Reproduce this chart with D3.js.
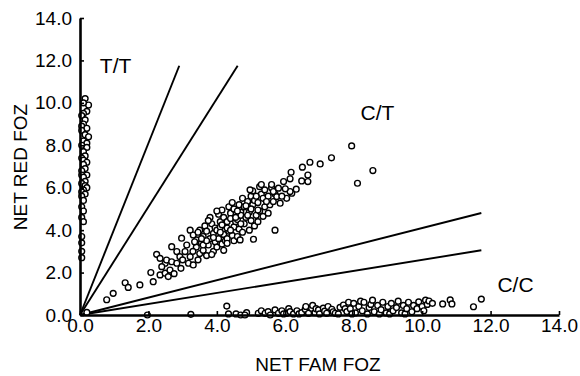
<!DOCTYPE html>
<html>
<head>
<meta charset="utf-8">
<script src="https://cdn.jsdelivr.net/npm/d3@7"></script>
<style>
  body { margin: 0; background: #fff; }
  svg { display: block; }
  text { font-family: "Liberation Sans", Arial, Helvetica, sans-serif; fill: #000; }
</style>
</head>
<body>
<svg id="chart" width="580" height="376"></svg>
<script>
// ---- data ----
const xTicks = [0, 2, 4, 6, 8, 10, 12, 14];
const yTicks = [0, 2, 4, 6, 8, 10, 12, 14];
const xTitle = "NET FAM FOZ";
const yTitle = "NET RED FOZ";

// reference lines through the origin: slope and end point (x or y cap)
const lineSlopes = [4.05, 2.55, 0.41, 0.26];
const lineEndY = 11.75;   // steep lines end at this y
const lineEndX = 11.73;   // shallow lines end at this x

const regionLabels = ["T/T", "C/T", "C/C"];
const regionAnchors = [[0.58, 11.4], [8.2, 9.2], [12.2, 1.1]];

// T/T: points along the y axis
const ttPoints = [
  [0.15,10.2],[0.25,9.9],[0.1,10.0],[0.2,9.6],[0.1,9.5],[0.05,9.4],[0.15,9.2],[0.1,9.0],
  [0.05,8.9],[0.2,8.8],[0.05,8.7],[0.15,8.5],[0.25,8.4],[0.1,8.2],[0.2,8.1],[0.05,8.0],
  [0.2,7.9],[0.1,7.7],[0.15,7.5],[0.05,7.4],[0.1,7.3],[0.2,7.2],[0.1,7.1],[0.15,6.9],
  [0.05,6.8],[0.2,6.6],[0.05,6.6],[0.1,6.5],[0.15,6.3],[0.05,6.2],[0.15,6.1],[0.2,6.0],
  [0.1,5.9],[0.05,5.8],[0.15,5.7],[0.05,5.6],[0.1,5.4],[0.05,5.1],[0.1,4.9],[0.05,4.6],
  [0.1,4.4],[0.05,3.7],[0.05,3.4],[0.05,3.0],[0.05,2.7]
];

// C/T: diagonal cluster
const ctPoints = [
  [0.78,0.72],[0.97,1.02],[1.32,1.52],[1.41,1.3],[1.75,1.42],[2.07,2.0],[2.14,1.57],[2.24,2.86],
  [2.34,2.67],[2.49,2.44],[2.39,2.28],[2.34,1.89],[2.49,1.97],[2.63,2.12],[2.58,1.81],[2.53,2.59],
  [2.68,2.51],[2.68,3.22],[2.83,2.99],[2.92,2.75],[2.83,2.44],[2.97,3.62],[3.12,3.3],[3.22,4.0],
  [3.31,3.77],[3.41,3.54],[3.07,2.99],[3.22,2.75],[3.17,2.44],[3.31,2.36],[2.75,1.95],[2.95,2.2],
  [3.0,2.6],
  [3.45,2.6],[3.5,2.9],[3.4,3.2],[3.55,3.4],[3.6,3.7],[3.5,4.0],[3.65,4.2],[3.6,3.05],[3.7,2.8],[3.45,3.9],
  [3.75,3.3],[3.8,3.6],[3.7,3.95],[3.85,4.3],[3.8,4.6],[3.9,3.0],[3.85,2.85],[3.95,3.45],[3.9,3.85],[3.75,4.45],[3.95,4.1],
  [4.0,3.2],[4.05,3.6],[4.0,4.0],[4.1,4.4],[4.05,4.75],[4.15,3.35],[4.2,3.8],[4.1,4.15],[4.2,4.6],[4.15,4.95],[4.25,3.5],[4.0,4.9],[4.25,4.25],
  [4.3,3.6],[4.35,3.95],[4.3,4.4],[4.4,4.8],[4.35,5.1],[4.45,3.75],[4.5,4.15],[4.4,4.55],[4.5,5.0],[4.45,5.3],[4.3,3.38],[4.55,4.4],[4.5,3.5],
  [4.6,3.7],[4.65,4.05],[4.6,4.5],[4.7,4.85],[4.65,5.2],[4.75,3.9],[4.8,4.3],[4.7,4.7],[4.8,5.1],[4.75,5.5],[4.68,3.54],[4.85,4.6],[4.9,5.35],
  [4.95,4.0],[5.0,4.45],[4.95,4.85],[5.05,5.2],[5.0,5.6],[5.1,4.2],[5.15,4.7],[5.05,5.85],[5.1,5.4],[5.07,3.57],[4.97,5.9],
  [5.2,4.4],[5.25,4.9],[5.2,5.3],[5.3,5.7],[5.25,6.05],[5.35,4.65],[5.4,5.1],[5.35,5.5],[5.4,5.9],[5.3,6.15],
  [5.5,4.8],[5.55,5.2],[5.5,5.6],[5.6,6.0],[5.6,6.15],[5.65,5.35],[5.7,5.7],[5.7,4.0],[5.65,5.82],[5.75,5.58],[5.8,5.98],
  [5.85,5.27],[5.95,6.29],[6.04,5.5],[6.14,6.42],[6.19,5.74],[6.17,6.73],[6.32,5.93],[6.14,5.82],[5.9,5.6],[6.0,5.95],
  [6.48,6.32],[6.66,6.29],[6.66,6.6],[6.5,6.97],[6.72,7.2],[7.02,7.12],[7.35,7.41],[7.94,7.97],[8.56,6.81],[8.11,6.21],
  [3.6,3.3],[3.9,3.65],[4.1,3.9],[4.3,4.1],[4.55,4.6],[4.7,4.3],[4.9,4.7],[5.0,5.0],[5.2,4.95],[5.45,5.35],
  [3.7,3.5],[4.15,4.25],[4.4,4.0],[4.6,4.9],[4.85,5.15],[5.15,5.6],[3.3,3.0],[3.35,3.45],[3.55,3.6],[4.2,3.05]
];

// C/C: points along the x axis
const ccPoints = [
  [0.2,0.12],[1.97,0.0],[3.24,0.03],[4.29,0.42],[4.34,0.05],[4.56,0.05],[4.7,0.0],[4.87,0.11],[4.82,0.0],
  [5.21,0.08],[5.3,0.2],[5.41,0.08],[5.5,0.16],[5.56,0.0],[5.7,0.24],[5.8,0.08],[5.9,0.2],[5.95,0.05],
  [6.04,0.08],[6.1,0.3],[6.14,0.16],[6.24,0.05],[6.34,0.2],[6.4,0.05],[6.48,0.11],[6.58,0.27],[6.6,0.4],
  [6.68,0.08],[6.77,0.32],[6.8,0.45],[6.87,0.11],[6.9,0.3],[6.97,0.24],[7.0,0.05],[7.11,0.32],[7.15,0.18],
  [7.21,0.08],[7.25,0.4],[7.36,0.27],[7.4,0.15],[7.46,0.08],[7.55,0.05],[7.6,0.36],[7.7,0.47],[7.75,0.3],
  [7.8,0.16],[7.85,0.6],[7.9,0.3],[7.95,0.05],[8.0,0.55],[8.05,0.1],[8.15,0.4],[8.2,0.65],[8.25,0.2],
  [8.3,0.6],[8.4,0.05],[8.45,0.35],[8.5,0.5],[8.55,0.7],[8.6,0.15],[8.7,0.45],[8.75,0.05],[8.8,0.25],
  [8.85,0.6],[8.95,0.1],[9.0,0.4],[9.05,0.05],[9.1,0.55],[9.15,0.2],[9.25,0.35],[9.3,0.65],[9.4,0.1],
  [9.45,0.45],[9.5,0.05],[9.55,0.3],[9.6,0.6],[9.7,0.15],[9.75,0.45],[9.85,0.3],[9.9,0.62],[10.0,0.4],
  [10.05,0.2],[10.1,0.7],[10.15,0.5],[10.2,0.66],[10.3,0.55],[10.6,0.52],[10.82,0.71],[10.87,0.52],
  [11.5,0.39],[11.73,0.75]
];

// ---- drawing ----
const svg = d3.select("#chart");
const x = d3.scaleLinear().domain([0, 14]).range([80, 559]);
const y = d3.scaleLinear().domain([0, 14]).range([315, 18]);
const fmt = d3.format(".1f");

// reference lines
const lineGen = d3.line().x(d => x(d[0])).y(d => y(d[1]));
lineSlopes.forEach(s => {
  const end = s >= 1 ? [lineEndY / s, lineEndY] : [lineEndX, lineEndX * s];
  svg.append("path")
    .attr("d", lineGen([[0, 0], end]))
    .attr("fill", "none")
    .attr("stroke", "#000")
    .attr("stroke-width", 1.9);
});

// points
const allPoints = ttPoints.concat(ctPoints, ccPoints);
svg.append("g").selectAll("circle")
  .data(allPoints)
  .join("circle")
  .attr("cx", d => x(d[0]))
  .attr("cy", d => y(d[1]))
  .attr("r", 2.9)
  .attr("fill", "#fff")
  .attr("stroke", "#000")
  .attr("stroke-width", 1.4);

// axes
const xAxis = d3.axisBottom(x).tickValues(xTicks).tickFormat(fmt)
  .tickSizeInner(-4).tickSizeOuter(0).tickPadding(3);
const yAxis = d3.axisLeft(y).tickValues(yTicks).tickFormat(fmt)
  .tickSizeInner(-4).tickSizeOuter(0).tickPadding(8);

const gx = svg.append("g").attr("transform", "translate(0,315)").call(xAxis);
const gy = svg.append("g").attr("transform", "translate(80,0)").call(yAxis);
[gx, gy].forEach(g => {
  g.select(".domain").attr("stroke", "#000").attr("stroke-width", 2.6);
  g.selectAll(".tick line").attr("stroke", "#000").attr("stroke-width", 1.6);
  g.selectAll(".tick text").attr("font-size", 19)
    .style("font-family", '"Liberation Sans", Arial, Helvetica, sans-serif').attr("fill", "#000");
});

// axis titles
svg.append("text")
  .attr("x", 318).attr("y", 371)
  .attr("text-anchor", "middle")
  .attr("font-size", 19)
  .text(xTitle);
svg.append("text")
  .attr("transform", "translate(27,167) rotate(-90)")
  .attr("text-anchor", "middle")
  .attr("font-size", 19)
  .text(yTitle);

// region labels
svg.append("g").selectAll("text")
  .data(regionLabels)
  .join("text")
  .attr("x", (d, i) => x(regionAnchors[i][0]))
  .attr("y", (d, i) => y(regionAnchors[i][1]))
  .attr("font-size", 21)
  .text(d => d);
</script>
</body>
</html>
